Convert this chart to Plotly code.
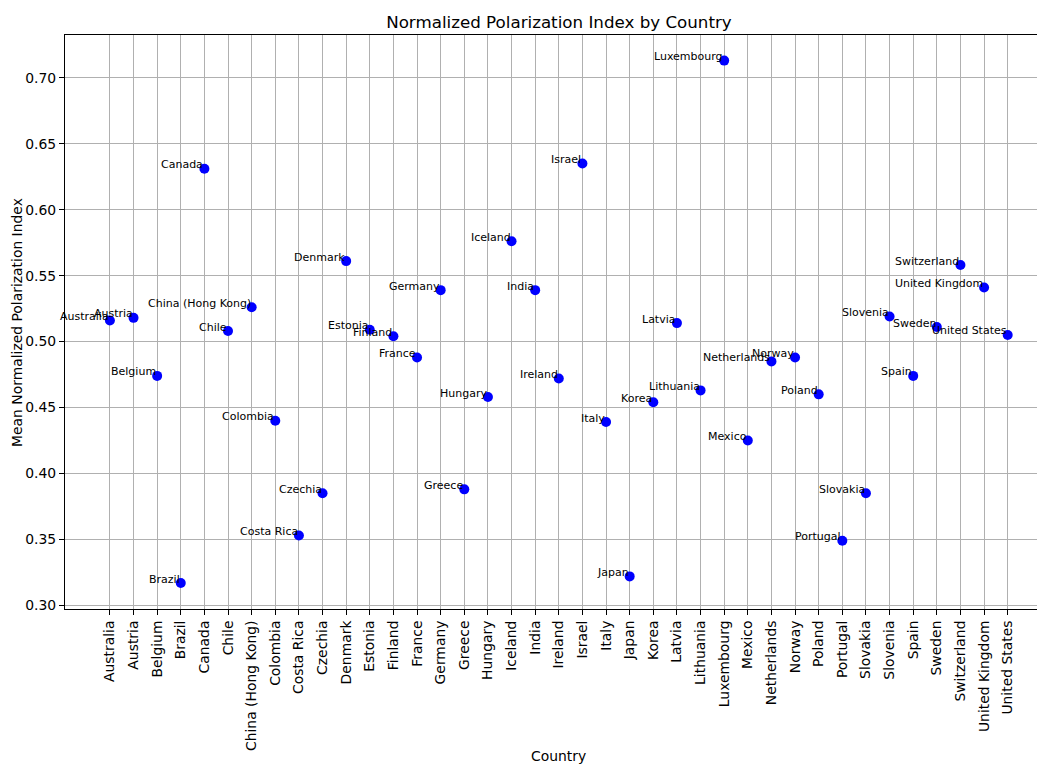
import plotly.graph_objects as go

# Country names (x categories) and mean normalized polarization index values
countries = [
    "Australia", "Austria", "Belgium", "Brazil", "Canada", "Chile",
    "China (Hong Kong)", "Colombia", "Costa Rica", "Czechia", "Denmark",
    "Estonia", "Finland", "France", "Germany", "Greece", "Hungary", "Iceland",
    "India", "Ireland", "Israel", "Italy", "Japan", "Korea", "Latvia",
    "Lithuania", "Luxembourg", "Mexico", "Netherlands", "Norway", "Poland",
    "Portugal", "Slovakia", "Slovenia", "Spain", "Sweden", "Switzerland",
    "United Kingdom", "United States",
]
polarization = [
    0.516, 0.518, 0.474, 0.317, 0.631, 0.508,
    0.526, 0.440, 0.353, 0.385, 0.561,
    0.509, 0.504, 0.488, 0.539, 0.388, 0.458, 0.576,
    0.539, 0.472, 0.635, 0.439, 0.322, 0.454, 0.514,
    0.463, 0.713, 0.425, 0.485, 0.488, 0.460,
    0.349, 0.385, 0.519, 0.474, 0.511, 0.558,
    0.541, 0.505,
]
y_ticks = [0.30, 0.35, 0.40, 0.45, 0.50, 0.55, 0.60, 0.65, 0.70]

FONT = "DejaVu Sans"
idx = list(range(len(countries)))

fig = go.Figure()
fig.add_trace(go.Scatter(
    x=idx, y=polarization, mode="markers",
    marker=dict(color="#0000ff", size=10, line=dict(width=0)),
    hoverinfo="skip", showlegend=False,
))

# Country name next to each point, right-aligned at the point, baseline on it
annotations = []
for i, (name, val) in enumerate(zip(countries, polarization)):
    annotations.append(dict(
        x=i, y=val, xref="x", yref="y", text=name, showarrow=False,
        xanchor="right", yanchor="bottom", yshift=-3.5, borderpad=0,
        font=dict(family=FONT, size=11, color="#000000"),
    ))

# Axis titles
annotations.append(dict(
    x=0.508, y=-0.2568, xref="paper", yref="paper", text="Country",
    showarrow=False, xanchor="center", yanchor="middle",
    font=dict(family=FONT, size=13.9, color="#000000"),
))
annotations.append(dict(
    x=-0.0494, y=0.5, xref="paper", yref="paper",
    text="Mean Normalized Polarization Index", textangle=-90,
    showarrow=False, xanchor="center", yanchor="middle",
    font=dict(family=FONT, size=13.9, color="#000000"),
))

fig.update_layout(
    width=1037, height=764,
    margin=dict(l=65, r=0, t=35, b=155),
    paper_bgcolor="white", plot_bgcolor="white",
    font=dict(family=FONT, color="#000000"),
    title=dict(
        text="Normalized Polarization Index by Country",
        x=0.539, xref="container", xanchor="center",
        y=1 - 22.5 / 764, yref="container", yanchor="middle",
        font=dict(family=FONT, size=16.7, color="#000000"),
    ),
    annotations=annotations,
)

fig.update_xaxes(
    range=[-1.9, 39.24],
    tickmode="array", tickvals=idx, ticktext=countries, tickangle=-90,
    tickfont=dict(family=FONT, size=13.9, color="#000000"),
    ticks="outside", ticklen=5, tickwidth=1, tickcolor="#000000",
    showgrid=True, gridcolor="#b0b0b0", gridwidth=1,
    showline=True, linecolor="#000000", linewidth=1, mirror=True,
    zeroline=False,
)
fig.update_yaxes(
    range=[0.2973, 0.7324],
    tickmode="array", tickvals=y_ticks,
    ticktext=[f"{v:.2f}" for v in y_ticks],
    tickfont=dict(family=FONT, size=13.9, color="#000000"),
    ticks="outside", ticklen=5, tickwidth=1, tickcolor="#000000",
    showgrid=True, gridcolor="#b0b0b0", gridwidth=1,
    showline=True, linecolor="#000000", linewidth=1, mirror=False,
    zeroline=False,
)

fig.write_html("out.html")
